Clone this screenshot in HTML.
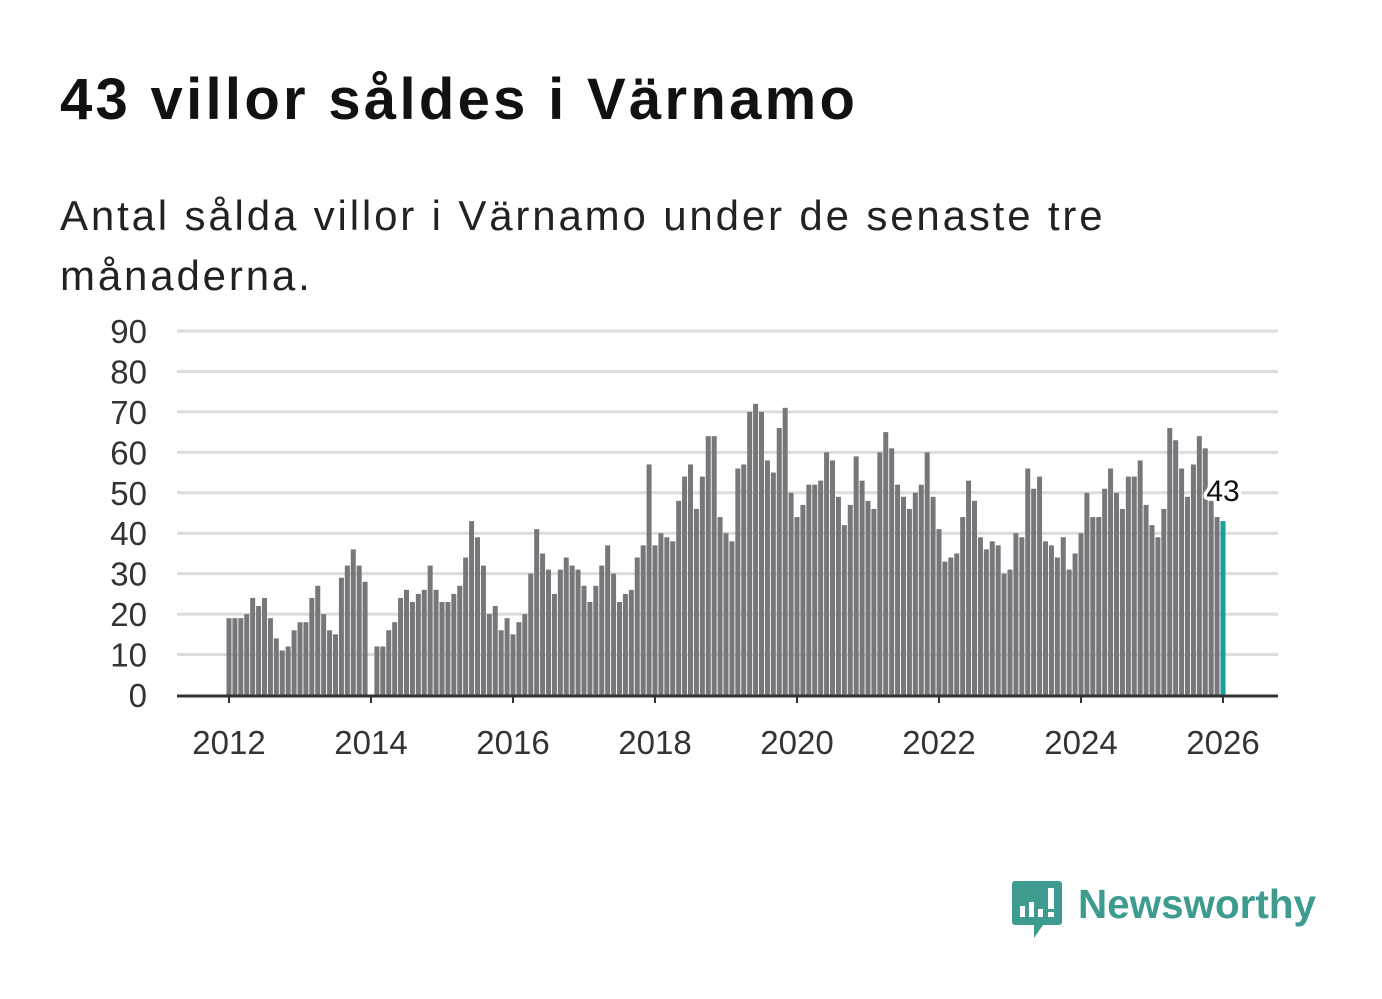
<!DOCTYPE html>
<html><head><meta charset="utf-8">
<style>
body{margin:0;background:#fff;width:1382px;height:999px;overflow:hidden;font-family:"Liberation Sans","DejaVu Sans",sans-serif;}
h1{position:absolute;left:60px;top:66px;margin:0;font-size:58px;font-weight:bold;color:#111;letter-spacing:3.3px;white-space:nowrap}
p.sub{position:absolute;left:60px;top:186px;margin:0;font-size:42px;line-height:60px;color:#222;letter-spacing:2.85px;white-space:nowrap}
svg{position:absolute;left:0;top:0}
</style></head><body>
<h1>43 villor såldes i Värnamo</h1>
<p class="sub">Antal sålda villor i Värnamo under de senaste tre<br>månaderna.</p>
<svg id="chart" width="1382" height="999"></svg>
<script>
const yTicks=[0,10,20,30,40,50,60,70,80,90];
const xTickYears=[2012,2014,2016,2018,2020,2022,2024,2026];
const startYear=2012;
const values=[
19,19,19,20,24,22,24,19,14,11,12,16,
18,18,24,27,20,16,15,29,32,36,32,28,
0,12,12,16,18,24,26,23,25,26,32,26,
23,23,25,27,34,43,39,32,20,22,16,19,
15,18,20,30,41,35,31,25,31,34,32,31,
27,23,27,32,37,30,23,25,26,34,37,57,
37,40,39,38,48,54,57,46,54,64,64,44,
40,38,56,57,70,72,70,58,55,66,71,50,
44,47,52,52,53,60,58,49,42,47,59,53,
48,46,60,65,61,52,49,46,50,52,60,49,
41,33,34,35,44,53,48,39,36,38,37,30,
31,40,39,56,51,54,38,37,34,39,31,35,
40,50,44,44,51,56,50,46,54,54,58,47,
42,39,46,66,63,56,49,57,64,61,48,44,
43];
const NS="http://www.w3.org/2000/svg";
const svg=document.getElementById('chart');
const y0=695,y90=331,xL=177,xR=1278;
const xa=229, perYear=(371-229)/2;
function yScale(v){return y0-(v/90)*(y0-y90);}
function xScale(i){return xa+(i/12)*perYear;}
function mk(t,a){const e=document.createElementNS(NS,t);for(const k in a)e.setAttribute(k,a[k]);svg.appendChild(e);return e;}
yTicks.forEach(v=>{
  if(v>0){const g=mk('line',{x1:xL,x2:xR,y1:yScale(v),y2:yScale(v),stroke:'#dcdcdc','stroke-width':3});
  
  }
  const t=mk('text',{x:147,y:yScale(v)+12,'text-anchor':'end','font-size':33,fill:'#333'});
  t.textContent=v;
  
  
});
values.forEach((v,i)=>{
  const last=i===values.length-1;
  const r=mk('rect',{x:xScale(i)-2.5,y:yScale(v),width:5,height:y0-yScale(v),fill:last?'#1a9e96':'#77767b'});
  
  
});
const ax=mk('line',{x1:xL,x2:xR,y1:y0+1,y2:y0+1,stroke:'#333','stroke-width':3});


xTickYears.forEach(yr=>{
  const x=xScale((yr-startYear)*12);
  const tk=mk('line',{x1:x,x2:x,y1:y0,y2:y0+8,stroke:'#333','stroke-width':2});
  
  
  const t=mk('text',{x:x,y:754,'text-anchor':'middle','font-size':33,fill:'#333'});
  t.textContent=yr;
  
  
});
const lv=values[values.length-1];
const lx=xScale(values.length-1);
const lb=mk('text',{x:lx,y:yScale(lv)-20,'text-anchor':'middle','font-size':30,fill:'#111',stroke:'#fff','stroke-width':7,'paint-order':'stroke','stroke-linejoin':'round'});
lb.textContent=lv;


</script>
<svg width="1382" height="999" style="pointer-events:none">
<path d="M1015 881 h44 a3 3 0 0 1 3 3 v38 a3 3 0 0 1 -3 3 h-16 l-9 13 v-13 h-19 a3 3 0 0 1 -3 -3 v-38 a3 3 0 0 1 3 -3z" fill="#3d9b8f"/>
<rect x="1020" y="906" width="5" height="11" fill="#fff"/>
<rect x="1029" y="902" width="5" height="15" fill="#fff"/>
<rect x="1038" y="909" width="5" height="8" fill="#fff"/>
<rect x="1048" y="888" width="6" height="21" fill="#fff"/>
<rect x="1048" y="912" width="6" height="5" fill="#fff"/>
<text x="1078" y="918" font-size="41" font-weight="bold" fill="#3d9b8f" font-family="Liberation Sans, sans-serif" textLength="238" lengthAdjust="spacingAndGlyphs">Newsworthy</text>
</svg>
</body></html>
